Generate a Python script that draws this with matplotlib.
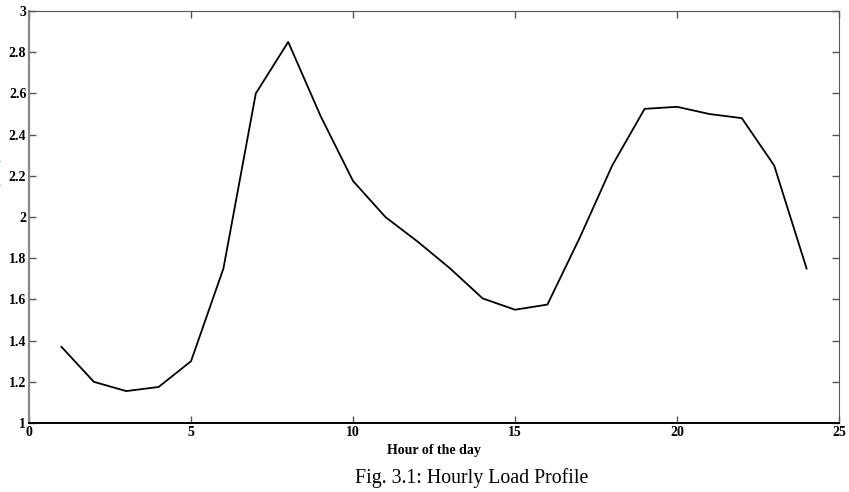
import matplotlib
matplotlib.use("Agg")
import matplotlib.pyplot as plt

# hourly load values
hours = [1, 2, 3, 4, 5, 6, 7, 8, 9, 10, 11, 12, 13, 14, 15, 16, 17, 18, 19, 20, 21, 22, 23, 24]
load = [1.37, 1.20, 1.155, 1.175, 1.30, 1.75, 2.60, 2.85, 2.49, 2.175, 2.0, 1.88, 1.75, 1.605,
        1.55, 1.575, 1.90, 2.25, 2.525, 2.535, 2.50, 2.48, 2.25, 1.75]
xticks = [0, 5, 10, 15, 20, 25]
yticks = [1, 1.2, 1.4, 1.6, 1.8, 2, 2.2, 2.4, 2.6, 2.8, 3]
ytick_labels = ["1", "1.2", "1.4", "1.6", "1.8", "2", "2.2", "2.4", "2.6", "2.8", "3"]

plt.rcParams['font.family'] = ['Liberation Serif', 'DejaVu Serif']

fig = plt.figure(figsize=(8.49, 4.92), dpi=100)
ax = fig.add_axes([0.0342, 0.1402, 0.9540, 0.8374])

ax.plot(hours, load, color='black', linewidth=1.3)

ax.set_xlim(0, 25)
ax.set_ylim(1, 3)
ax.set_xticks(xticks)
ax.set_yticks(yticks)
ax.set_yticklabels(ytick_labels)
ax.tick_params(direction='in', top=True, right=True, length=5, width=1,
               color='#555555', labelsize=10, pad=2)
for lbl in ax.get_xticklabels() + ax.get_yticklabels():
    lbl.set_fontweight('bold')

for side in ['top', 'right']:
    ax.spines[side].set_color('#555555')
ax.spines['left'].set_color('#888888')
ax.spines['left'].set_linewidth(1.6)
ax.spines['bottom'].set_color('black')
ax.spines['bottom'].set_linewidth(1.4)

ax.set_xlabel("Hour of the day", fontsize=10, fontweight='bold', labelpad=4)

# y label is mostly cut off at the left edge in the original
fig.text(-0.006, 0.56, "Load Demand (kW)", rotation=90, color='#5ab4cc',
         fontsize=10, fontweight='bold', ha='center', va='center')

fig.text(0.555, 0.008, "Fig. 3.1: Hourly Load Profile", fontsize=14.3,
         ha='center', va='bottom')

fig.savefig("out.png", dpi=100)
